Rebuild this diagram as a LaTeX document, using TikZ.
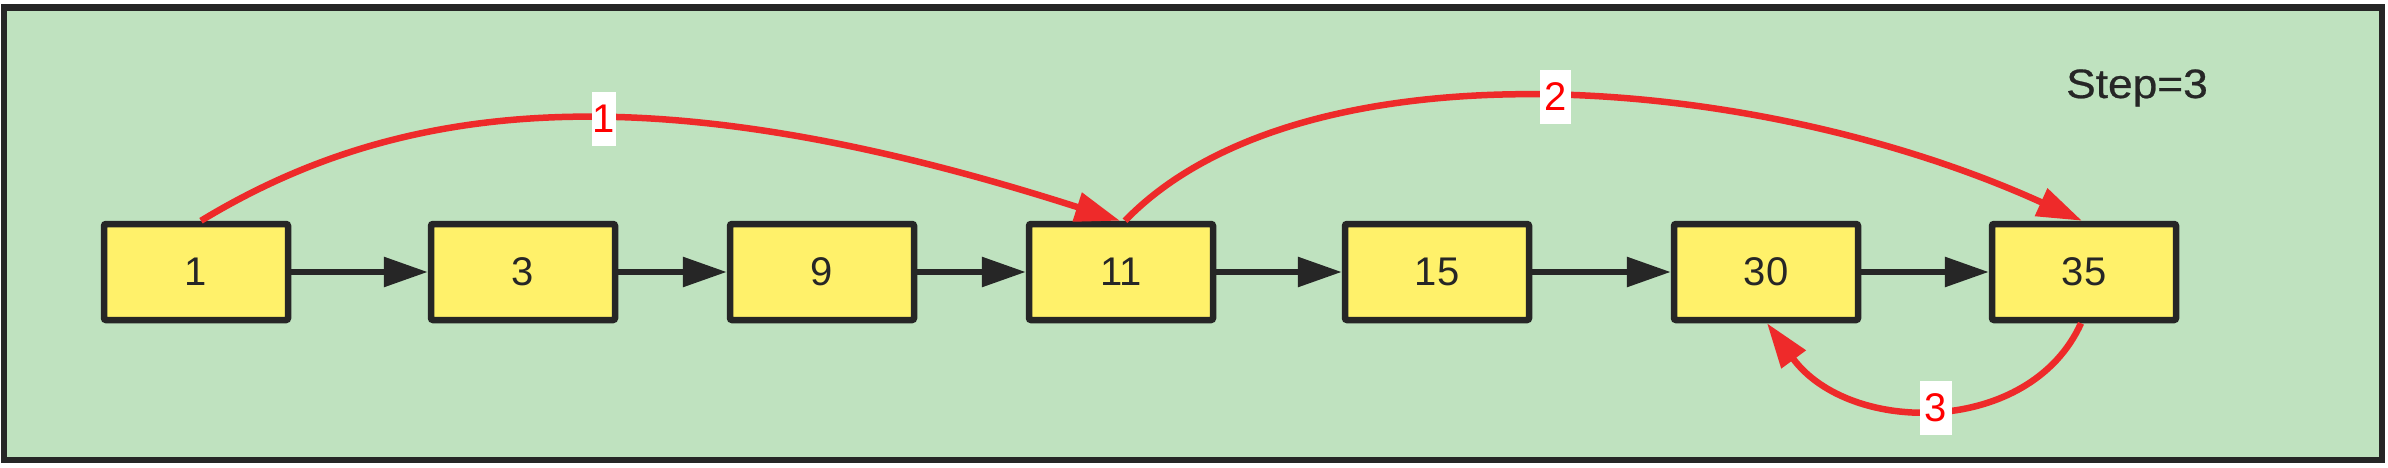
\documentclass[tikz,border=0pt]{standalone}
\usepackage{fontspec}
\setmainfont{Liberation Sans}
\newfontfamily\stepfont[FakeStretch=1.08, FakeBold=0.6]{Liberation Sans}
\usetikzlibrary{arrows.meta}
\definecolor{bgreen}{HTML}{BFE2BF}
\definecolor{byellow}{HTML}{FFF16A}
\definecolor{dark}{HTML}{262626}
\definecolor{rline}{HTML}{EE2A2A}
\definecolor{rtext}{HTML}{FF0000}
\tikzset{
 listbox/.style={draw=dark, line width=6.5pt, fill=byellow, minimum width=184pt, minimum height=96pt, inner sep=0pt, rounded corners=2pt, font=\fontsize{40}{48}\selectfont, text=dark},
 nextarrow/.style={draw=dark, line width=6pt, -{Triangle[length=44pt,width=29pt]}},
 jumparrow/.style={draw=rline, line width=6.5pt, -{Triangle[length=45pt,width=29pt]}},
 steplabel/.style={fill=white, text=rtext, font=\fontsize{40}{48}\selectfont, inner xsep=4.5pt, inner ysep=13pt},
}
\begin{document}
\begin{tikzpicture}[x=1pt,y=-1pt]
\useasboundingbox (0,0) rectangle (2388,468);
\fill[white] (0,0) rectangle (2388,468);
\draw[dark, line width=6.5pt, fill=bgreen] (4,7.5) rectangle (2382,460);
\node[listbox] (n1) at (196,272) {1};
\node[listbox] (n3) at (523,272) {3};
\node[listbox] (n9) at (822,272) {9};
\node[listbox] (n11) at (1121,272) {11};
\node[listbox] (n15) at (1437,272) {15};
\node[listbox] (n30) at (1766,272) {30};
\node[listbox] (n35) at (2084,272) {35};
\draw[nextarrow] (n1.east) -- (n3.west);
\draw[nextarrow] (n3.east) -- (n9.west);
\draw[nextarrow] (n9.east) -- (n11.west);
\draw[nextarrow] (n11.east) -- (n15.west);
\draw[nextarrow] (n15.east) -- (n30.west);
\draw[nextarrow] (n30.east) -- (n35.west);
\draw[jumparrow] ([xshift=5pt]n1.north) .. controls (400,100) and (650,70) .. ([xshift=-1pt]n11.north)
  node[steplabel, inner xsep=1pt, pos=0.55] (l1) {1};
\draw[jumparrow] ([xshift=4pt]n11.north) .. controls (1300,40) and (1750,70) .. ([xshift=-2pt]n35.north)
  node[steplabel, pos=0.51] (l2) {2};
\draw[jumparrow] ([xshift=-3pt]n35.south) .. controls (2030,436) and (1850,436) .. ([xshift=1pt]n30.south)
  node[steplabel, pos=0.5] (l3) {3};
\node[anchor=base west, inner sep=0pt, text=dark, font=\stepfont\fontsize{41}{48}\selectfont] (step) at (2066,98) {Step=3};
\end{tikzpicture}
\end{document}
